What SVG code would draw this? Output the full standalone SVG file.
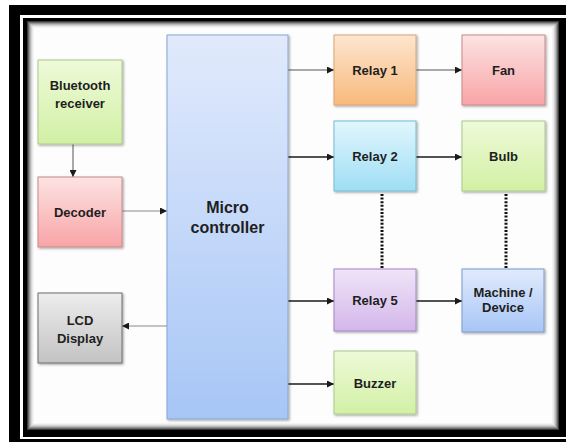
<svg xmlns="http://www.w3.org/2000/svg" width="566" height="442" viewBox="0 0 566 442">
  <style>
    .box { stroke-width: 1; filter: url(#shadow); }
    .lbl { font-family: "Liberation Sans", Arial, sans-serif; font-weight: bold; font-size: 13px; fill: #1e1e1e; text-anchor: middle; }
    .big { font-size: 16px; }
    .wire { fill: none; stroke: #1a1a1a; stroke-width: 1.3; marker-end: url(#head); }
    .thin { stroke: #555; stroke-width: 1; }
    .grey { stroke: #8a8a8a; stroke-width: 1; }
    .dots { fill: none; stroke: #111; stroke-width: 3; stroke-dasharray: 2 1.6; }
  </style>
  <defs>
    <marker id="head" viewBox="0 0 8 8" refX="8" refY="4" markerWidth="8" markerHeight="7" markerUnits="userSpaceOnUse" orient="auto">
      <path d="M0,0 L8,4 L0,8 Z" fill="#1a1a1a"/>
    </marker>
    <filter id="shadow" x="-10%" y="-10%" width="130%" height="130%">
      <feDropShadow dx="1.2" dy="1.2" stdDeviation="0.9" flood-color="#000" flood-opacity="0.35"/>
    </filter>
    <linearGradient id="gGreen" x1="0" y1="0" x2="0" y2="1">
      <stop offset="0" stop-color="#eefad9"/><stop offset="1" stop-color="#d2f0a4"/>
    </linearGradient>
    <linearGradient id="gPink" x1="0" y1="0" x2="0" y2="1">
      <stop offset="0" stop-color="#fde3e3"/><stop offset="1" stop-color="#f8a4a6"/>
    </linearGradient>
    <linearGradient id="gBlue" x1="0" y1="0" x2="0" y2="1">
      <stop offset="0" stop-color="#e1eafc"/><stop offset="1" stop-color="#a7c6f6"/>
    </linearGradient>
    <linearGradient id="gGrey" x1="0" y1="0" x2="0" y2="1">
      <stop offset="0" stop-color="#ededed"/><stop offset="1" stop-color="#c3c3c3"/>
    </linearGradient>
    <linearGradient id="gOrange" x1="0" y1="0" x2="0" y2="1">
      <stop offset="0" stop-color="#fde6cf"/><stop offset="1" stop-color="#f8b97c"/>
    </linearGradient>
    <linearGradient id="gCyan" x1="0" y1="0" x2="0" y2="1">
      <stop offset="0" stop-color="#e1f6fd"/><stop offset="1" stop-color="#9fdef4"/>
    </linearGradient>
    <linearGradient id="gPurple" x1="0" y1="0" x2="0" y2="1">
      <stop offset="0" stop-color="#f0e4f8"/><stop offset="1" stop-color="#d3b7ea"/>
    </linearGradient>
  </defs>

  <!-- picture frame -->
  <g id="frame">
    <rect x="9" y="5" width="557" height="437" fill="#000"/>
    <rect x="20" y="15" width="546" height="424" fill="#fff"/>
    <rect x="23" y="18" width="543" height="419" fill="#000"/>
    <rect x="27" y="21" width="532" height="409" fill="#fdfdfd"/>
    <rect x="27.5" y="21.5" width="531" height="408" fill="none" stroke="#3a3a3a"/>
    <rect x="28.5" y="22.5" width="529" height="406" fill="none" stroke="#6a6a6a"/>
    <rect x="29.5" y="23.5" width="527" height="404" fill="none" stroke="#949494"/>
    <rect x="30.5" y="24.5" width="525" height="402" fill="none" stroke="#b8b8b8"/>
    <rect x="31.5" y="25.5" width="523" height="400" fill="none" stroke="#d4d4d4"/>
    <rect x="32.5" y="26.5" width="521" height="398" fill="none" stroke="#e8e8e8"/>
    <rect x="33.5" y="27.5" width="519" height="396" fill="none" stroke="#f4f4f4"/>
  </g>

  <!-- connectors -->
  <g id="connectors">
    <line class="wire thin" x1="73" y1="144" x2="73" y2="177"/>
    <line class="wire grey" x1="122" y1="211" x2="167" y2="211"/>
    <line class="wire grey" x1="167" y1="326" x2="122" y2="326"/>
    <line class="wire thin" x1="288" y1="70" x2="334" y2="70"/>
    <line class="wire thin" x1="416" y1="70" x2="462" y2="70"/>
    <line class="wire" x1="288" y1="157" x2="334" y2="157"/>
    <line class="wire" x1="416" y1="157" x2="462" y2="157"/>
    <line class="wire" x1="288" y1="301" x2="334" y2="301"/>
    <line class="wire" x1="416" y1="301" x2="462" y2="301"/>
    <line class="wire" x1="288" y1="384" x2="334" y2="384"/>
    <line class="dots" x1="382" y1="194" x2="382" y2="268"/>
    <line class="dots" x1="506" y1="194" x2="506" y2="268"/>
  </g>

  <g id="bluetooth">
    <rect class="box" x="38" y="60" width="84" height="84" fill="url(#gGreen)" stroke="#a9c98f"/>
    <text class="lbl" x="80" y="90">Bluetooth</text>
    <text class="lbl" x="80" y="108">receiver</text>
  </g>
  <g id="decoder">
    <rect class="box" x="38" y="177" width="84" height="70" fill="url(#gPink)" stroke="#c98a8a"/>
    <text class="lbl" x="80" y="217">Decoder</text>
  </g>
  <g id="lcd">
    <rect class="box" x="38" y="293" width="84" height="70" fill="url(#gGrey)" stroke="#6e6e6e"/>
    <text class="lbl" x="80" y="325">LCD</text>
    <text class="lbl" x="80" y="343">Display</text>
  </g>
  <g id="microcontroller">
    <rect class="box" x="167" y="35" width="121" height="384" fill="url(#gBlue)" stroke="#86a6d6"/>
    <text class="lbl big" x="227.5" y="213">Micro</text>
    <text class="lbl big" x="227.5" y="233">controller</text>
  </g>
  <g id="relay1">
    <rect class="box" x="334" y="35" width="82" height="70" fill="url(#gOrange)" stroke="#d9a674"/>
    <text class="lbl" x="375" y="75">Relay 1</text>
  </g>
  <g id="fan">
    <rect class="box" x="462" y="35" width="83" height="70" fill="url(#gPink)" stroke="#c98a8a"/>
    <text class="lbl" x="503.5" y="75">Fan</text>
  </g>
  <g id="relay2">
    <rect class="box" x="334" y="121" width="82" height="70" fill="url(#gCyan)" stroke="#74bcd4"/>
    <text class="lbl" x="375" y="161">Relay 2</text>
  </g>
  <g id="bulb">
    <rect class="box" x="462" y="121" width="83" height="70" fill="url(#gGreen)" stroke="#a9c98f"/>
    <text class="lbl" x="503.5" y="161">Bulb</text>
  </g>
  <g id="relay5">
    <rect class="box" x="334" y="269" width="82" height="62" fill="url(#gPurple)" stroke="#a586c4"/>
    <text class="lbl" x="375" y="305">Relay 5</text>
  </g>
  <g id="machine">
    <rect class="box" x="462" y="269" width="82" height="63" fill="url(#gBlue)" stroke="#7b9bcb"/>
    <text class="lbl" x="503" y="297">Machine /</text>
    <text class="lbl" x="503" y="312">Device</text>
  </g>
  <g id="buzzer">
    <rect class="box" x="334" y="351" width="82" height="63" fill="url(#gGreen)" stroke="#a9c98f"/>
    <text class="lbl" x="375" y="388">Buzzer</text>
  </g>
</svg>
